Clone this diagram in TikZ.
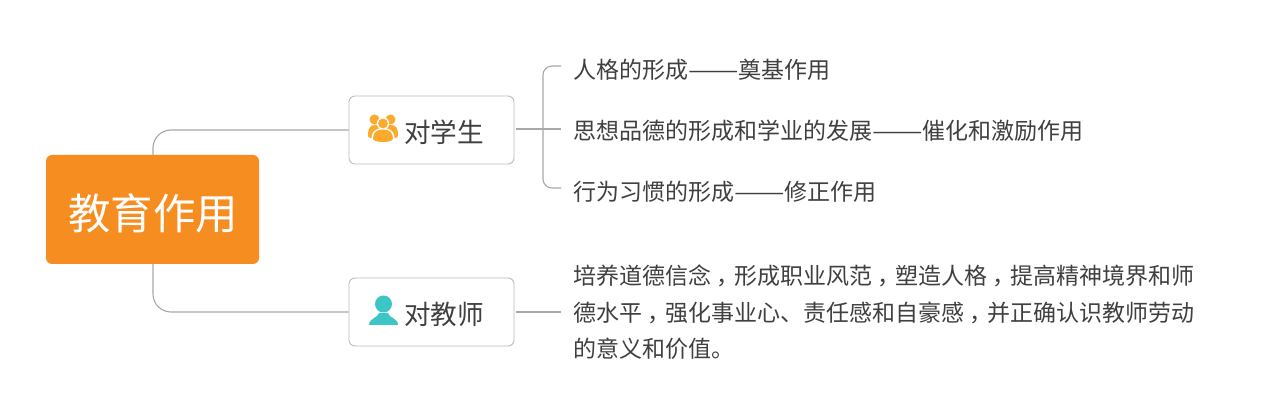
\documentclass[tikz,border=0pt]{standalone}
\usepackage{fontspec}
\setmainfont{Noto Sans CJK SC}
\newcommand{\dashpair}{\scalebox{1.31}[1]{——}}
\newcommand{\midcomma}{\hspace{.25em}，\hspace{-.25em}}
\definecolor{linec}{HTML}{A8A8A8}
\definecolor{boxc}{HTML}{BDBDBD}
\definecolor{textc}{HTML}{404040}
\definecolor{rootc}{HTML}{F68D20}
\definecolor{peoplec}{HTML}{FBAA2E}
\definecolor{personc}{HTML}{3EC5C5}
\begin{document}
\begin{tikzpicture}[x=1pt,y=-1pt,
  conn/.style={draw=linec,line width=1.1pt,rounded corners=9pt},
  rootbox/.style={fill=rootc,rounded corners=6pt,minimum width=213pt,minimum height=109pt,inner sep=0pt},
  roottext/.style={text=white,inner sep=0pt,font=\fontsize{42.4}{46}\selectfont},
  topicbox/.style={draw=boxc,line width=0.9pt,fill=white,rounded corners=6pt,minimum width=165pt,minimum height=68pt,inner sep=0pt},
  topictext/.style={text=textc,font=\fontsize{26.6}{30}\selectfont,inner sep=0pt,anchor=west},
  leaf/.style={text=textc,font=\fontsize{23}{36.4}\selectfont,inner xsep=12pt,inner ysep=0pt,anchor=west,align=left}]
\useasboundingbox (0,0) rectangle (1264,419);
\fill[white] (0,0) rectangle (1264,419);
\node[topicbox] (st) at (431.5,130) {};
\node[topicbox] (te) at (431.5,312) {};
\node[leaf] (l1) at (561,70) {人格的形成\dashpair 奠基作用};
\node[leaf] (l2) at (561,131) {思想品德的形成和学业的发展\dashpair 催化和激励作用};
\node[leaf] (l3) at (561,192) {行为习惯的形成\dashpair 修正作用};
\node[leaf] (l4) at (561,312.5) {培养道德信念\midcomma 形成职业风范\midcomma 塑造人格\midcomma 提高精神境界和师\\德水平\midcomma 强化事业心、责任感和自豪感\midcomma 并正确认识教师劳动\\的意义和价值。};
\coordinate (rt) at (153,155);
\coordinate (rb) at (153,264);
\coordinate (sa) at (516,129);
\coordinate (sb) at (561,129);
\coordinate (ta) at (516,312);
\coordinate (tb) at (561,312);
\coordinate (ba) at (561,66);
\coordinate (bb) at (561,188);
\coordinate (bc) at (543,66);
\coordinate (bd) at (543,188);
\draw[conn,rounded corners=18pt] (rt) |- (st.west);
\draw[conn,rounded corners=18pt] (rb) |- (te.west);
\node[rootbox] (root) at (152.5,209.5) {};
\node[roottext] (rl) at (153,213) {教育作用};
\draw[conn] (sa) -- (sb);
\draw[conn] (ba) -- (bc) -- (bd) -- (bb);
\draw[conn] (ta) -- (tb);
\node[topictext] (t1) at (404,132.5) {对学生};
\node[topictext] (t2) at (404,314.5) {对教师};
% people icon
\fill[peoplec] (374.5,119.5) circle (5);
\fill[peoplec] (390.5,119.5) circle (5);
\fill[peoplec] (368,136) .. controls (368,128) and (370,125) .. (375,125) -- (391,125) .. controls (396,125) and (398,128) .. (398,136) .. controls (398,138) and (393,139) .. (390,139) -- (376,139) .. controls (373,139) and (368,138) .. (368,136) -- cycle;
\fill[white] (383,123.5) circle (6.2);
\fill[white] (371,142) .. controls (371,131) and (376,128) .. (383,128) .. controls (390,128) and (395,131) .. (395,142) -- cycle;
\fill[peoplec] (383,123.5) circle (4.9);
\fill[peoplec] (373,138.5) .. controls (373,132) and (377,129.5) .. (383,129.5) .. controls (389,129.5) and (393,132) .. (393,138.5) .. controls (393,141) and (388,142) .. (383,142) .. controls (378,142) and (373,141) .. (373,138.5) -- cycle;
% person icon
\fill[personc] (383.5,304) circle (8.5);
\fill[personc] (369,325) .. controls (369,318) and (378,318) .. (379,313) -- (388,313) .. controls (389,318) and (398,318) .. (398,325) -- cycle;
\end{tikzpicture}
\end{document}
